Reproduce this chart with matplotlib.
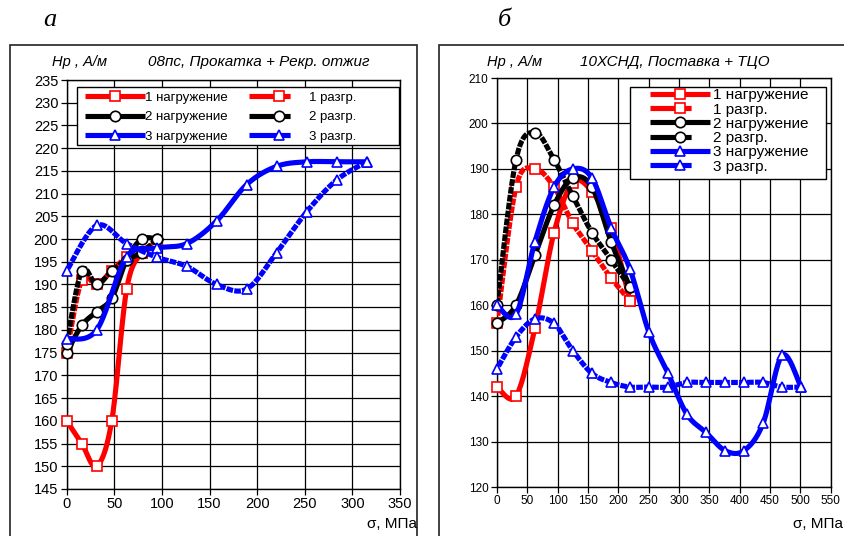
import numpy as np
import matplotlib
matplotlib.use('Agg')
import matplotlib.pyplot as plt
from matplotlib.lines import Line2D
from matplotlib.patches import Rectangle

plt.rcParams['font.family'] = ['Liberation Sans', 'DejaVu Sans']

# ---- панель а: 08пс, Прокатка + Рекр. отжиг
a_sig = [0, 15.8, 31.5, 47.3, 63, 78.8, 94.5]
a_sig_back = a_sig[::-1]
a_load1 = [160, 155, 150, 160, 189, 197, 199]
a_unl1 = [199, 197, 196, 193, 190, 191, 175]
a_load2 = [175, 181, 184, 187, 195.5, 200, 200]
a_unl2 = [200, 197, 195.5, 193, 190, 193, 177]
a_sig3 = [0, 31.5, 63, 94.5, 126, 157.5, 189, 220.5, 252, 283.5, 315]
a_sig3_back = a_sig3[::-1]
a_load3 = [178, 180, 196, 198, 199, 204, 212, 216, 217, 217, 217]
a_unl3 = [217, 213, 206, 197, 189, 190, 194, 196, 199, 203, 193]

# ---- панель б: 10ХСНД, Поставка + ТЦО
b_sig = [0, 31.3, 62.6, 94, 125, 156.5, 188, 219]
b_sig_back = b_sig[::-1]
b_load1 = [142, 140, 155, 176, 187, 185, 177, 161]
b_unl1 = [161, 166, 172, 178, 186, 190, 186, 156]
b_load2 = [156, 160, 171, 182, 188, 186, 174, 164]
b_unl2 = [164, 170, 176, 184, 192, 198, 192, 160]
b_sig3 = [0, 31.3, 62.6, 94, 125, 156.5, 188, 219, 250.5, 282, 313, 344.5,
          376, 407, 438.5, 470, 501]
b_sig3_back = b_sig3[::-1]
b_load3 = [160, 158, 174, 186, 190, 188, 177, 168, 154, 145, 136, 132,
           128, 128, 134, 149, 142]
b_unl3 = [142, 142, 143, 143, 143, 143, 143, 142, 142, 142, 143, 145,
          150, 156, 157, 153, 146]

labels = ['1 нагружение', '1 разгр.', '2 нагружение', '2 разгр.',
          '3 нагружение', '3 разгр.']
colors = ['#ff0000', '#ff0000', 'black', 'black', '#0000ff', '#0000ff']
markers = ['s', 's', 'o', 'o', '^', '^']
dashed = [False, True, False, True, False, True]


def smooth(x, y, n=24):
    # сглаживание как в Excel (кривые Безье через точки)
    p = np.column_stack([x, y]).astype(float)
    p = np.vstack([p[0], p, p[-1]])
    t = np.linspace(0, 1, n)[:, None]
    out = []
    for i in range(1, len(p) - 2):
        p0, p1, p2, p3 = p[i - 1], p[i], p[i + 1], p[i + 2]
        c1 = p1 + (p2 - p0) / 6
        c2 = p2 - (p3 - p1) / 6
        seg = (1 - t)**3 * p1 + 3 * (1 - t)**2 * t * c1 + 3 * (1 - t) * t**2 * c2 + t**3 * p2
        out.append(seg if i == 1 else seg[1:])
    out = np.vstack(out)
    return out[:, 0], out[:, 1]


def draw(ax, series, ms):
    for k, (x, y) in enumerate(series):
        sx, sy = smooth(x, y)
        ls = (0, (1.3, 0.25)) if dashed[k] else '-'
        ax.plot(sx, sy, color=colors[k], lw=3.7, ls=ls, zorder=3 + k,
                solid_capstyle='butt', dash_capstyle='butt')
        ax.plot(x, y, ls='none', marker=markers[k], ms=ms, mfc='white',
                mec=colors[k], mew=1.2, zorder=3 + k, clip_on=False)


def handles(ms):
    hs = []
    for k in range(6):
        ls = (0, (8, 5)) if dashed[k] else '-'
        hs.append(Line2D([], [], color=colors[k], lw=3.7, ls=ls, marker=markers[k],
                         ms=ms, mfc='white', mec=colors[k], mew=1.2,
                         solid_capstyle='butt', dash_capstyle='butt'))
    return hs


def style(ax, fs):
    ax.grid(True, color='black', lw=0.9)
    ax.set_axisbelow(True)
    for s in ax.spines.values():
        s.set_color('black')
        s.set_linewidth(1.0)
    ax.tick_params(direction='out', length=4, width=0.9, labelsize=fs, pad=2)


def legend_box(ax, x0, y0, w, h):
    ax.add_patch(Rectangle((x0, y0), w, h, transform=ax.transAxes, fc='white',
                           ec='black', lw=1.0, zorder=19, clip_on=False))


fig = plt.figure(figsize=(8.45, 5.36), dpi=100)

# рамки панелей
fig.patches.append(Rectangle((10 / 845, -0.01), 407 / 845, 1 - 45 / 536 + 0.01,
                             transform=fig.transFigure, fill=False, ec='#222222', lw=1.2))
fig.patches.append(Rectangle((439 / 845, -0.01), 420 / 845, 1 - 45 / 536 + 0.01,
                             transform=fig.transFigure, fill=False, ec='#222222', lw=1.2))

# ---- а
ax1 = fig.add_axes([66.7 / 845, 1 - 489 / 536, 333.3 / 845, 409 / 536])
draw(ax1, [(a_sig, a_load1), (a_sig_back, a_unl1), (a_sig, a_load2),
           (a_sig_back, a_unl2), (a_sig3, a_load3), (a_sig3_back, a_unl3)], 7.5)
ax1.set_xlim(0, 350)
ax1.set_ylim(145, 235)
ax1.set_xticks(np.arange(0, 351, 50))
ax1.set_yticks(np.arange(145, 236, 5))
style(ax1, 10.5)
legend_box(ax1, 0.031, 0.841, 0.966, 0.142)
h = handles(7.5)
leg1 = ax1.legend([h[0], h[2], h[4], h[1], h[3], h[5]],
                  [labels[0], labels[2], labels[4], labels[1], labels[3], labels[5]],
                  ncol=2, loc='upper left', bbox_to_anchor=(0.055, 0.972),
                  fontsize=9.5, handlelength=4.55, handletextpad=0.0,
                  columnspacing=1.6, labelspacing=0.55, borderpad=0,
                  borderaxespad=0, frameon=False, numpoints=1)
leg1.set_zorder(20)

# ---- б
ax2 = fig.add_axes([497 / 845, 1 - 487 / 536, 333.7 / 845, 409 / 536])
draw(ax2, [(b_sig, b_load1), (b_sig_back, b_unl1), (b_sig, b_load2),
           (b_sig_back, b_unl2), (b_sig3, b_load3), (b_sig3_back, b_unl3)], 7.5)
ax2.set_xlim(0, 550)
ax2.set_ylim(120, 210)
ax2.set_xticks(np.arange(0, 551, 50))
ax2.set_yticks(np.arange(120, 211, 10))
style(ax2, 8.5)
legend_box(ax2, 0.3986, 0.753, 0.587, 0.225)
leg2 = ax2.legend(handles(7.5), labels, loc='upper left',
                  bbox_to_anchor=(0.4585, 0.975), fontsize=11, handlelength=3.9,
                  handletextpad=0.2, labelspacing=0.02, borderpad=0,
                  borderaxespad=0, frameon=False, numpoints=1)
leg2.set_zorder(20)

# подписи
fig.text(52 / 845, 1 - 62 / 536, 'Hp , А/м', fontsize=10.5, style='italic',
         ha='left', va='center')
fig.text(259 / 845, 1 - 62 / 536, '08пс, Прокатка + Рекр. отжиг', fontsize=11,
         style='italic', ha='center', va='center')
fig.text(487 / 845, 1 - 62 / 536, 'Hp , А/м', fontsize=10.5, style='italic',
         ha='left', va='center')
fig.text(675 / 845, 1 - 62 / 536, '10ХСНД, Поставка + ТЦО', fontsize=11,
         style='italic', ha='center', va='center')
fig.text(417 / 845, 1 - 524 / 536, 'σ, МПа', fontsize=11, ha='right', va='center')
fig.text(843 / 845, 1 - 524 / 536, 'σ, МПа', fontsize=11, ha='right', va='center')
fig.text(50 / 845, 1 - 20 / 536, 'а', fontsize=19, style='italic',
         family=['Liberation Serif', 'DejaVu Serif'], ha='center', va='center')
fig.text(504 / 845, 1 - 20 / 536, 'б', fontsize=19, style='italic',
         family=['Liberation Serif', 'DejaVu Serif'], ha='center', va='center')

fig.savefig('out.png', dpi=100)
